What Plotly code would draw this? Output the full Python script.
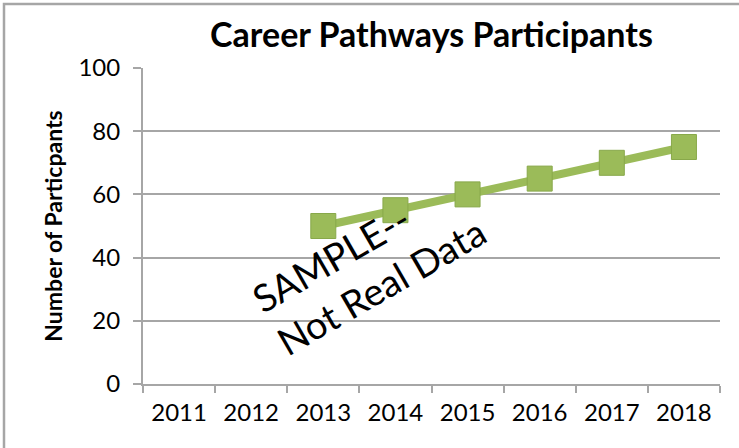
import plotly.graph_objects as go

years = ["2011", "2012", "2013", "2014", "2015", "2016", "2017", "2018"]
participants = [None, None, 50, 55, 60, 65, 70, 75]
y_ticks = [0, 20, 40, 60, 80, 100]

FONT = "Lato"
GRID = "#a6a6a6"
GREEN = "#9bbb59"

W, H = 739, 448
L, R, T, B = 143, 19, 68, 64
pw, ph = W - L - R, H - T - B

fig = go.Figure()
fig.add_trace(go.Scatter(
    x=years, y=participants, mode="lines+markers",
    line=dict(color=GREEN, width=8),
    marker=dict(symbol="square", size=25, color=GREEN,
                line=dict(color="#88a84a", width=1)),
    connectgaps=False, showlegend=False, hoverinfo="x+y",
))

fig.update_layout(
    width=W, height=H,
    margin=dict(l=L, r=R, t=T, b=B, autoexpand=False),
    paper_bgcolor="white", plot_bgcolor="white",
    font=dict(family=FONT, color="black"),
    title=dict(text="<b>Career Pathways Participants</b>", x=0.5, xref="paper",
               y=1 - 35 / H, yanchor="middle", xanchor="center",
               font=dict(size=34, family=FONT, color="black")),
    xaxis=dict(type="category", range=[-0.5, 7.5], showgrid=False,
               showline=True, linecolor=GRID, linewidth=2,
               ticks="outside", ticklen=7, tickcolor=GRID, tickwidth=2,
               tickson="boundaries", tickfont=dict(size=24, family=FONT),
               ticklabelstandoff=6),
    yaxis=dict(range=[0, 100], tickvals=y_ticks, showgrid=True,
               gridcolor=GRID, gridwidth=1.5, zeroline=False,
               showline=True, linecolor=GRID, linewidth=2,
               ticks="outside", ticklen=8, tickcolor=GRID, tickwidth=2,
               tickfont=dict(size=24, family=FONT), ticklabelstandoff=8,
               title=dict(text="<b>Number of Particpants</b>",
                          font=dict(size=23, family=FONT), standoff=9)),
    shapes=[dict(type="rect", xref="paper", yref="paper",
                 x0=(4 - L) / pw, x1=1.3, y0=-0.5, y1=(H - B - 4) / ph,
                 line=dict(color=GRID, width=2.5), fillcolor="rgba(0,0,0,0)")],
    annotations=[dict(text="SAMPLE--<br>Not Real Data", xref="paper", yref="paper",
                      x=(368 - L) / pw, y=(H - B - 264) / ph, showarrow=False,
                      textangle=-30, align="left",
                      font=dict(size=38, family=FONT, color="black"))],
)

fig.write_html(
    "out.html",
    config={"displayModeBar": False},
    post_script="document.body.style.margin='0';document.body.style.overflow='hidden';",
)
